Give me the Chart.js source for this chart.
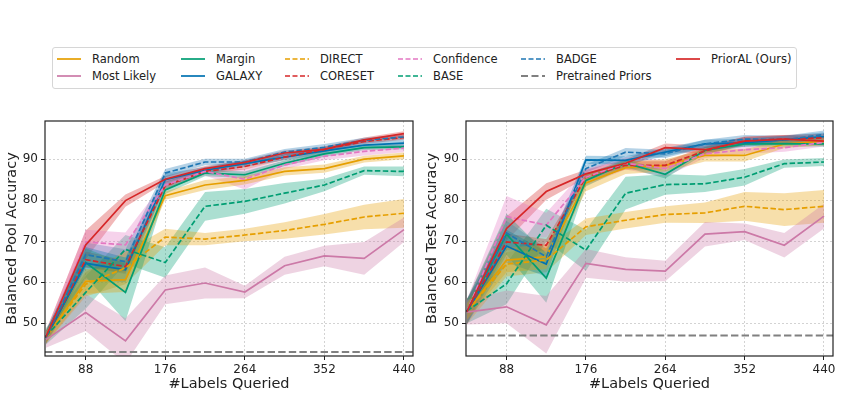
<!DOCTYPE html>
<html>
<head>
<meta charset="utf-8">
<script src="https://cdn.jsdelivr.net/npm/chart.js@4.4.0/dist/chart.umd.min.js"></script>
<style>
  body { margin: 0; background: #fff; width: 843px; height: 397px; position: relative; overflow: hidden; font-family: "DejaVu Sans", sans-serif; }
  #legend { position: absolute; left: 52px; top: 47px; width: 745px; height: 42px; border: 1px solid #d6d6d6; border-radius: 3px; box-sizing: border-box; }
  .item { position: absolute; font-size: 11.5px; color: #222; white-space: nowrap; line-height: 14px; height: 14px; }
  .item svg { position: absolute; left: 0; top: 2px; }
  .item span { position: absolute; left: 35px; top: 0; }
  #pool { position: absolute; left: 0; top: 110px; }
  #test { position: absolute; left: 420px; top: 110px; }
</style>
</head>
<body>
<div id="legend"></div>
<canvas id="pool" width="420" height="287"></canvas>
<canvas id="test" width="423" height="287"></canvas>
<script>
// x positions (number of labels queried) and tick values
const queries = [44, 88, 132, 176, 220, 264, 308, 352, 396, 440];
const xTicks = [88, 176, 264, 352, 440];
const yTicks = [50, 60, 70, 80, 90];

const methods = ['Random', 'Most Likely', 'Margin', 'GALAXY', 'DIRECT', 'CORESET',
  'Confidence', 'BASE', 'BADGE', 'Pretrained Priors', 'PriorAL (Ours)'];

// Balanced Pool Accuracy (mean, std)
const poolRandom      = [46.5, 60.2, 60.6, 81.1, 83.7, 84.8, 87.0, 87.7, 90.0, 90.8];
const poolRandomSd    = [1.5, 3.0, 3.0, 1.0, 1.2, 1.0, 1.0, 1.0, 0.8, 0.8];
const poolMostLikely  = [46.0, 52.6, 45.7, 58.1, 59.8, 57.6, 64.0, 66.4, 65.8, 72.8];
const poolMostLikelySd= [2.0, 4.5, 5.5, 3.5, 3.8, 1.5, 2.2, 2.5, 4.0, 3.0];
const poolMargin      = [46.5, 64.8, 57.5, 82.5, 86.6, 86.2, 89.0, 91.3, 92.8, 93.0];
const poolMarginSd    = [1.5, 3.5, 7.0, 1.0, 0.8, 0.8, 0.7, 0.7, 0.6, 0.6];
const poolGalaxy      = [46.5, 64.6, 63.0, 85.0, 87.3, 88.9, 90.5, 92.0, 93.4, 93.9];
const poolGalaxySd    = [1.5, 4.0, 3.0, 1.5, 0.8, 0.8, 0.8, 0.8, 0.8, 0.8];
const poolDirect      = [46.5, 59.5, 63.5, 71.0, 70.5, 71.5, 72.6, 74.1, 75.9, 76.8];
const poolDirectSd    = [1.5, 3.0, 4.0, 2.0, 1.5, 1.5, 2.0, 2.5, 3.0, 3.5];
const poolCoreset     = [46.5, 65.5, 63.8, 83.5, 87.0, 88.2, 90.5, 92.4, 94.3, 95.3];
const poolCoresetSd   = [1.5, 2.0, 1.5, 1.0, 0.7, 0.7, 0.7, 0.7, 0.6, 0.6];
const poolConfidence  = [46.5, 69.8, 69.1, 83.7, 87.0, 85.1, 88.6, 90.7, 91.9, 92.7];
const poolConfidenceSd= [1.5, 3.0, 3.0, 1.0, 1.0, 2.5, 1.0, 1.0, 1.0, 1.0];
const poolBase        = [46.8, 57.5, 68.0, 64.8, 78.5, 79.7, 81.7, 83.7, 87.2, 87.0];
const poolBaseSd      = [2.0, 4.0, 3.5, 3.7, 3.5, 3.0, 2.5, 1.5, 1.0, 1.2];
const poolBadge       = [46.5, 66.7, 65.0, 86.6, 89.3, 89.3, 91.7, 92.9, 94.6, 95.4];
const poolBadgeSd     = [1.5, 3.0, 3.0, 1.0, 0.8, 0.8, 0.8, 0.8, 0.6, 0.6];
const poolPrior       = 43.0;
const poolPriorAL     = [46.7, 69.1, 79.9, 85.1, 87.7, 89.2, 91.5, 92.4, 94.7, 96.2];
const poolPriorALSd   = [1.5, 3.5, 1.5, 0.8, 0.6, 0.6, 0.6, 0.6, 0.6, 0.6];

// Balanced Test Accuracy (mean, std)
const testRandom      = [52.8, 65.4, 66.2, 84.2, 87.9, 88.5, 90.9, 90.9, 93.7, 94.4];
const testRandomSd    = [2.0, 3.0, 3.0, 2.0, 1.5, 1.5, 1.5, 1.5, 1.0, 1.0];
const testMostLikely  = [52.7, 54.0, 49.6, 64.6, 63.1, 62.7, 71.7, 72.3, 69.0, 76.1];
const testMostLikelySd= [3.0, 4.0, 7.0, 3.5, 3.0, 2.5, 3.0, 2.0, 3.0, 3.0];
const testMargin      = [52.8, 71.7, 61.0, 84.8, 89.0, 86.3, 92.1, 93.7, 93.7, 93.7];
const testMarginSd    = [3.0, 5.0, 6.0, 1.5, 1.0, 1.0, 0.8, 0.6, 0.6, 0.6];
const testGalaxy      = [52.8, 68.8, 64.4, 89.8, 89.7, 91.7, 93.7, 94.0, 94.7, 95.5];
const testGalaxySd    = [3.0, 4.0, 3.0, 1.0, 1.0, 1.0, 1.0, 1.0, 1.0, 1.0];
const testDirect      = [52.8, 64.4, 65.4, 73.5, 75.1, 76.5, 76.9, 78.5, 77.7, 78.5];
const testDirectSd    = [3.0, 3.0, 3.0, 2.0, 2.0, 2.0, 2.5, 3.5, 4.0, 4.0];
const testCoreset     = [52.8, 69.8, 69.0, 85.6, 88.5, 88.5, 92.0, 94.5, 94.9, 95.2];
const testCoresetSd   = [3.0, 2.0, 1.5, 1.0, 1.0, 1.0, 1.0, 1.0, 1.0, 1.0];
const testConfidence  = [52.8, 76.0, 73.9, 85.6, 89.0, 87.7, 91.3, 92.3, 92.8, 94.1];
const testConfidenceSd= [3.0, 5.0, 3.0, 2.0, 1.5, 2.0, 1.0, 1.0, 1.0, 1.0];
const testBase        = [53.0, 59.6, 73.9, 67.8, 81.7, 83.8, 84.0, 85.6, 88.9, 89.3];
const testBaseSd      = [3.0, 5.0, 4.0, 5.0, 4.0, 2.5, 2.0, 2.0, 1.0, 1.0];
const testBadge       = [52.8, 72.0, 66.2, 87.7, 91.7, 91.3, 93.7, 94.9, 94.7, 96.0];
const testBadgeSd     = [3.0, 3.0, 2.0, 1.0, 1.0, 1.0, 1.0, 1.0, 1.0, 1.0];
const testPrior       = 47.0;
const testPriorAL     = [52.8, 73.1, 82.1, 86.4, 89.0, 92.8, 92.3, 94.4, 94.9, 94.4];
const testPriorALSd   = [3.0, 3.0, 2.0, 1.0, 1.0, 1.0, 1.0, 1.0, 1.0, 1.0];

// line styles per method
const colors = ['#E69F00', '#CC79A7', '#009E73', '#0072B2', '#E69F00', '#D62728',
  '#E377C2', '#009E73', '#1F77B4', '#808080', '#D62728'];
const dashed = [false, false, false, false, true, true, true, true, true, true, false];

function rgba(hex, a) {
  const n = parseInt(hex.slice(1), 16);
  return `rgba(${n >> 16},${(n >> 8) & 255},${n & 255},${a})`;
}

function buildDatasets(means, sds, prior) {
  const bands = [], lines = [];
  methods.forEach((name, i) => {
    if (name === 'Pretrained Priors') {
      lines.push({
        label: name, data: [{x: 43, y: prior}, {x: 450, y: prior}],
        borderColor: colors[i], borderWidth: 2, borderDash: [7.4, 3.2],
        pointRadius: 0, fill: false, order: 30 - i
      });
      return;
    }
    const m = means[name], s = sds[name];
    bands.push({
      label: name + ' hi', data: queries.map((q, k) => ({x: q, y: m[k] + s[k]})),
      borderWidth: 0, pointRadius: 0, fill: false, order: 100
    });
    bands.push({
      label: name + ' lo', data: queries.map((q, k) => ({x: q, y: m[k] - s[k]})),
      borderWidth: 0, pointRadius: 0, fill: '-1', backgroundColor: rgba(colors[i], 0.33), order: 100
    });
    lines.push({
      label: name, data: queries.map((q, k) => ({x: q, y: m[k]})),
      borderColor: colors[i], borderWidth: 1.7, borderDash: dashed[i] ? [5.5, 2.4] : [],
      pointRadius: 0, fill: false, order: 30 - i
    });
  });
  return bands.concat(lines);
}

const frame = {
  id: 'frame',
  afterDraw(chart) {
    const {ctx, chartArea: a} = chart;
    ctx.save();
    ctx.strokeStyle = '#222';
    ctx.lineWidth = 1.2;
    ctx.strokeRect(a.left, a.top, a.right - a.left, a.bottom - a.top);
    ctx.restore();
  }
};

function makeChart(id, means, sds, prior, yTitle, yWidth, padRight) {
  new Chart(document.getElementById(id), {
    type: 'line',
    data: {datasets: buildDatasets(means, sds, prior)},
    options: {
      responsive: false,
      animation: false,
      events: [],
      layout: {padding: {top: 11, right: padRight, left: 0, bottom: 0}},
      plugins: {legend: {display: false}, tooltip: {enabled: false}},
      scales: {
        x: {
          type: 'linear', min: 43, max: 450,
          afterBuildTicks: sc => { sc.ticks = xTicks.map(v => ({value: v})); },
          afterFit: sc => { sc.height = 41; },
          ticks: {font: {family: 'DejaVu Sans', size: 12}, color: '#222', padding: 3, maxRotation: 0},
          grid: {color: '#c8c8c8', lineWidth: 0.8, tickColor: '#222', tickLength: 4, tickBorderDash: [1, 0], tickWidth: 1},
          border: {display: false, dash: [2, 2]},
          title: {display: true, text: '#Labels Queried', font: {family: 'DejaVu Sans', size: 14.5}, color: '#222', padding: {top: 0, bottom: 4}}
        },
        y: {
          min: 42, max: 99.3,
          afterBuildTicks: sc => { sc.ticks = yTicks.map(v => ({value: v})); },
          afterFit: sc => { sc.width = yWidth; },
          ticks: {font: {family: 'DejaVu Sans', size: 12}, color: '#222', padding: 3},
          grid: {color: '#c8c8c8', lineWidth: 0.8, tickColor: '#222', tickLength: 4, tickBorderDash: [1, 0], tickWidth: 1},
          border: {display: false, dash: [2, 2]},
          title: {display: true, text: yTitle, font: {family: 'DejaVu Sans', size: 14.5}, color: '#222', padding: {top: 4, bottom: 0}}
        }
      }
    },
    plugins: [frame]
  });
}

const poolMeans = {'Random': poolRandom, 'Most Likely': poolMostLikely, 'Margin': poolMargin, 'GALAXY': poolGalaxy,
  'DIRECT': poolDirect, 'CORESET': poolCoreset, 'Confidence': poolConfidence, 'BASE': poolBase,
  'BADGE': poolBadge, 'PriorAL (Ours)': poolPriorAL};
const poolSds = {'Random': poolRandomSd, 'Most Likely': poolMostLikelySd, 'Margin': poolMarginSd, 'GALAXY': poolGalaxySd,
  'DIRECT': poolDirectSd, 'CORESET': poolCoresetSd, 'Confidence': poolConfidenceSd, 'BASE': poolBaseSd,
  'BADGE': poolBadgeSd, 'PriorAL (Ours)': poolPriorALSd};
const testMeans = {'Random': testRandom, 'Most Likely': testMostLikely, 'Margin': testMargin, 'GALAXY': testGalaxy,
  'DIRECT': testDirect, 'CORESET': testCoreset, 'Confidence': testConfidence, 'BASE': testBase,
  'BADGE': testBadge, 'PriorAL (Ours)': testPriorAL};
const testSds = {'Random': testRandomSd, 'Most Likely': testMostLikelySd, 'Margin': testMarginSd, 'GALAXY': testGalaxySd,
  'DIRECT': testDirectSd, 'CORESET': testCoresetSd, 'Confidence': testConfidenceSd, 'BASE': testBaseSd,
  'BADGE': testBadgeSd, 'PriorAL (Ours)': testPriorALSd};

makeChart('pool', poolMeans, poolSds, poolPrior, 'Balanced Pool Accuracy', 45, 7);
makeChart('test', testMeans, testSds, testPrior, 'Balanced Test Accuracy', 46, 10);

// shared legend, 2 rows filled column by column
const colX = [4, 128, 232, 345, 468, 623];
const rowY = [4, 21];
const legend = document.getElementById('legend');
methods.forEach((name, i) => {
  const el = document.createElement('div');
  el.className = 'item';
  el.style.left = colX[Math.floor(i / 2)] + 'px';
  el.style.top = rowY[i % 2] + 'px';
  const dash = name === 'Pretrained Priors' ? 'stroke-dasharray="7 3.5" stroke-width="2"'
    : (dashed[i] ? 'stroke-dasharray="5 2.5" stroke-width="1.7"' : 'stroke-width="1.7"');
  el.innerHTML = `<svg width="26" height="10"><line x1="0" y1="5" x2="24" y2="5" stroke="${colors[i]}" ${dash}/></svg><span>${name}</span>`;
  legend.appendChild(el);
});
</script>
</body>
</html>
